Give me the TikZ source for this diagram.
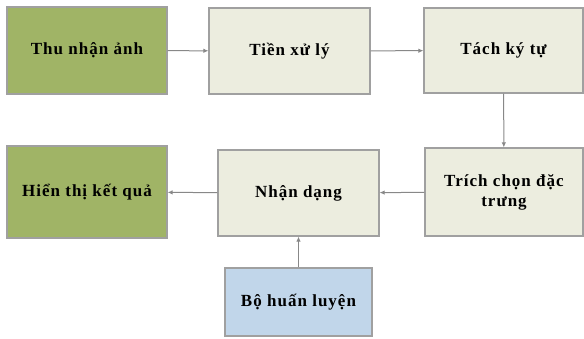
\documentclass[tikz,border=0pt]{standalone}
\usepackage{fontspec}
\setmainfont{Liberation Serif}
\usepackage{tikz}
\usetikzlibrary{positioning, arrows.meta}
\usepackage{xcolor}
\definecolor{oliveBox}{RGB}{160,180,102}
\definecolor{beigeBox}{RGB}{236,237,223}
\definecolor{blueBox}{RGB}{193,214,234}
\definecolor{edgeGray}{RGB}{160,160,160}

\tikzset{
  stage/.style={draw=edgeGray, line width=1.2pt, fill=beigeBox, align=center,
                font=\bfseries\fontsize{17}{20}\selectfont\addfontfeatures{LetterSpace=6},
                inner sep=0pt},
  ioStage/.style={stage, fill=oliveBox},
  trainStage/.style={stage, fill=blueBox},
  flow/.style={draw=edgeGray!85!black, line width=1pt, -{Latex[length=5pt,width=4.5pt]}}
}

\begin{document}
\begin{tikzpicture}[x=1pt, y=-1pt]
\useasboundingbox (0,0) rectangle (584,339);
%
\node[ioStage, minimum width=160pt, minimum height=87pt] (thu)   at (87,50.5)    {Thu nhận ảnh};
\node[stage,   minimum width=161pt, minimum height=86pt] (tien)  at (289.5,51)   {Tiền xử lý};
\node[stage,   minimum width=159pt, minimum height=85pt] (tach)  at (503.5,50.5) {Tách ký tự};
\node[stage,   minimum width=158pt, minimum height=88pt] (trich) at (504,192)    {Trích chọn đặc\\trưng};
\node[stage,   minimum width=161pt, minimum height=86pt] (nhan)  at (298.5,193)  {Nhận dạng};
\node[ioStage, minimum width=160pt, minimum height=92pt] (hien)  at (87,192)     {Hiển thị kết quả};
\node[trainStage, minimum width=147pt, minimum height=68pt] (bo) at (298.5,302)  {Bộ huấn luyện};

\draw[flow] (thu)   -- (tien);
\draw[flow] (tien)  -- (tach);
\draw[flow] (tach)  -- (trich);
\draw[flow] (trich) -- (nhan);
\draw[flow] (nhan)  -- (hien);
\draw[flow] (bo)    -- (nhan);
%
\end{tikzpicture}
\end{document}
